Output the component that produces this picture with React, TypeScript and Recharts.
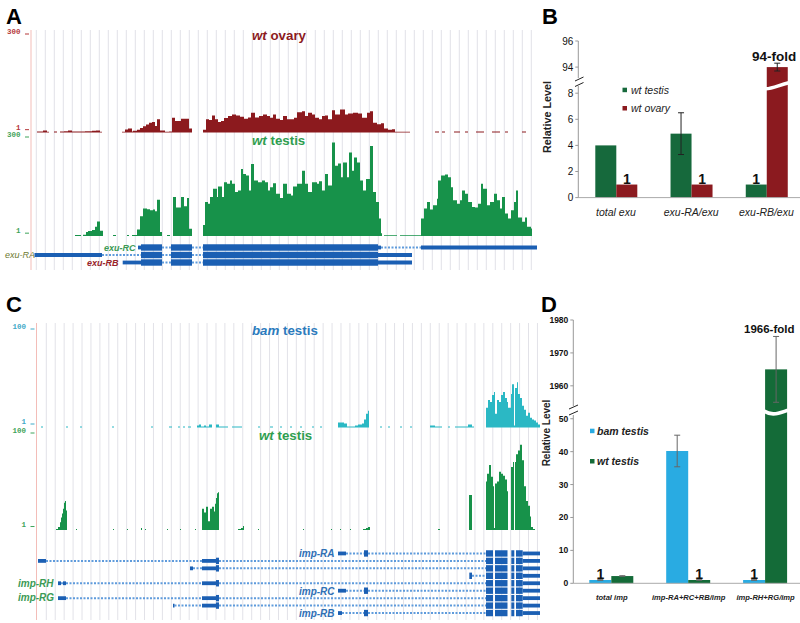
import React from "react";
import {
  AreaChart,
  Area,
  BarChart,
  Bar,
  ComposedChart,
  Line,
  XAxis,
  YAxis,
  ErrorBar,
  LabelList,
  ReferenceLine,
} from "recharts";

const FONT = "'Liberation Sans', Arial, sans-serif";

// coverage tracks: bin start and read height, null = no coverage
const ovaryBins = [37, 43, 47, 49, 54, 57, 60, 64, 68, 72, 78, 85, 92, 96, 100, 102, 122, 125, 128, 132, 133, 137, 140, 143, 146, 149, 152, 155, 157, 160, 165, 169, 172, 175, 178, 181, 185, 189, 192, 203, 206, 209, 212, 215, 218, 221, 224, 228, 232, 236, 240, 244, 248, 251, 255, 259, 263, 267, 270, 273, 276, 280, 283, 287, 291, 294, 297, 302, 305, 308, 312, 315, 319, 322, 325, 328, 332, 335, 340, 345, 348, 353, 358, 362, 367, 370, 373, 377, 381, 384, 388, 392, 395, 410, 435, 439, 442, 445, 454, 460, 465, 468, 476, 484, 492, 500, 505, 508, 522, 526];
const ovaryReads = [3, 6, 2, null, 3, null, 3, 4, 6, 3, 3, 4, 5, 6, 2, null, 2, 9, 12, 3, 5, 8, 14, 19, 24, 30, 32, 20, 40, 6, 2, 3, 45, 35, 35, 42, 42, 12, null, 8, 40, 38, 52, 40, 32, 35, 44, 50, 55, 52, 48, 42, 46, 60, 46, 50, 55, 50, 45, 55, 42, 38, 50, 40, 40, 45, 62, 65, 50, 60, 55, 45, 40, 50, 52, 40, 68, 55, 70, 55, 58, 60, 58, 45, 60, 65, 30, 25, 28, 12, 8, 10, 2, null, 3, null, 3, null, 3, null, 3, null, 3, null, 3, null, 3, null, 3, null];

const testisABins = [75, 81, 83, 86, 88, 92, 95, 97, 100, 103, 113, 116, 127, 129, 132, 137, 140, 143, 147, 150, 153, 155, 157, 160, 162, 167, 170, 173, 176, 181, 184, 187, 189, 192, 203, 205, 208, 210, 213, 217, 218, 222, 224, 227, 230, 232, 235, 238, 241, 243, 246, 249, 251, 254, 258, 262, 265, 268, 270, 273, 276, 280, 283, 287, 291, 293, 297, 302, 305, 308, 312, 317, 319, 322, 325, 328, 332, 335, 338, 341, 343, 347, 349, 352, 354, 357, 360, 363, 366, 370, 373, 376, 379, 381, 382, 384, 397, 400, 421, 424, 427, 430, 433, 437, 438, 441, 445, 448, 451, 453, 457, 460, 462, 465, 468, 472, 475, 478, 481, 483, 487, 490, 494, 497, 500, 502, 505, 508, 511, 514, 516, 518, 522, 525, 527, 531, 532];
const testisAReads = [3, null, 4, 12, 15, 18, 28, 44, 16, null, 3, null, 3, null, 3, 20, 60, 83, 81, 78, 80, 75, 110, 12, null, 3, null, 118, 86, 118, 90, 115, 22, null, 33, 103, 98, 118, 143, 118, 150, 118, 163, 158, 168, 158, 133, 138, 203, 188, 183, 138, 218, 168, 163, 168, 163, 138, 148, 160, 128, 115, 158, 128, 123, 150, 158, 198, 158, 133, 163, 158, 166, 138, 188, 153, 283, 213, 220, 178, 223, 178, 253, 198, 238, 223, 168, 138, 173, 273, 133, 103, 53, 8, null, 2, null, 2, 53, 83, 103, 80, 93, 113, 168, 183, 186, 178, 148, 108, 98, 108, 138, 128, 103, 88, 86, 98, 158, 143, 93, 103, 128, 108, 83, 118, 68, 53, 78, 103, 138, 56, 43, 56, 28, 23, null];

const bamBins = [41, 43, 66, 68, 80, 82, 112, 114, 151, 153, 169, 172, 178, 180, 183, 185, 188, 191, 197, 199, 201, 204, 206, 209, 212, 216, 219, 224, 228, 232, 240, 242, 258, 260, 270, 273, 280, 282, 290, 292, 300, 302, 312, 314, 320, 322, 338, 341, 344, 347, 350, 355, 358, 362, 364, 366, 368, 369, 380, 382, 388, 390, 400, 402, 410, 412, 430, 435, 440, 442, 448, 450, 455, 462, 468, 472, 474, 486, 488, 490, 492, 494, 495, 497, 499, 501, 503, 505, 507, 508, 511, 512, 514, 515, 517, 518, 520, 522, 524, 526, 528, 530, 532, 534, 536, 538, 540];
const bamReads = [1, null, 1, null, 1, null, 1, null, 1, null, 1, null, 1, null, 1, null, 1, null, 2, 3, 1, 2, 1, 3, null, 3, 1, 1, null, 1, 1, null, 1, null, 1, null, 1, null, 1, null, 1, null, 1, null, 1, null, 5, 5, 4, 1, 1, 2, 3, 4, 8, 14, 17, null, 1, null, 1, null, 1, null, 1, null, 2, 1, 1, null, 1, null, 1, 1, 3, 1, null, 20, 28, 26, 33, 36, 14, 28, 26, 33, 36, 30, 26, 20, 34, 44, 2, 40, 46, 34, 30, 22, 18, 12, 15, 10, 8, 7, 5, 3, 2];

const testisCBins = [56, 58, 60, 61, 62, 63, 64, 65, 66, 67, 76, 77, 113, 114, 127, 128, 141, 142, 145, 146, 167, 168, 180, 181, 195, 196, 202, 204, 206, 208, 210, 212, 214, 215, 216, 217, 218, 219, 238, 241, 243, 244, 258, 259, 303, 304, 331, 332, 340, 341, 350, 351, 363, 366, 368, 370, 438, 440, 469, 472, 486, 487, 489, 491, 493, 494, 495, 497, 499, 501, 503, 505, 507, 508, 511, 513, 514, 515, 516, 518, 520, 522, 524, 526, 528, 530, 531, 533, 535];
const testisCReads = [1, 3, 8, 13, 17, 22, 28, 30, 20, null, 1, null, 1, null, 1, null, 2, null, 1, null, 1, null, 1, null, 1, null, 22, 18, 24, 9, 22, 24, 19, 27, 33, 38, 39, null, 1, 2, 4, null, 1, null, 1, null, 1, null, 1, null, 1, null, 1, 2, 3, null, 1, null, 36, null, 50, 58, 67, 55, 45, 2, 48, 50, 60, 58, 56, 52, 40, null, 65, 70, null, 70, 78, 82, 88, 72, 45, 30, 25, 14, 3, 1, null];

// gene models, each feature is [row, from, to]
const exuCds = [1, 2, 3].flatMap((row) => [[row, 141, 162], [row, 171, 192], [row, 203, 378]]);
const exuUtr = [[1, 138, 141], [1, 378, 381], [1, 421, 537], [2, 34.5, 102], [2, 378, 412], [3, 122.7, 141], [3, 378, 412]];
const exuIntrons = [[1, 162, 171], [1, 192, 203], [1, 381, 421], [2, 102, 141], [2, 162, 171], [2, 192, 203], [3, 162, 171], [3, 192, 203]];

const impRows = [1, 2, 3, 4, 5, 6, 7, 8, 9];
const impCds = [
  ...impRows.flatMap((row) => [[row, 486, 493], [row, 495, 507.5], [row, 511.3, 514.3], [row, 516, 522.7]]),
  ...[2, 3, 5, 7, 8].flatMap((row) => [[row, 216, 219]]),
  ...[1, 6, 9].flatMap((row) => [[row, 364, 368]]),
  [4, 469.3, 472],
];
const impUtr = [
  ...impRows.map((row) => [row, 522.7, 540]),
  ...[2, 3, 5, 7, 8].map((row) => [row, 202, 216]),
  [1, 338, 346], [2, 38, 46], [3, 190, 193], [5, 58, 61], [5, 63, 66], [6, 338, 346], [7, 58, 66], [8, 173, 174.5], [9, 338, 342],
];
const impIntrons = [
  [1, 346, 364], [1, 368, 486], [2, 46, 202], [2, 219, 486], [3, 193, 202], [3, 219, 486], [4, 472, 486],
  [5, 61, 63], [5, 66, 202], [5, 219, 486], [6, 346, 364], [6, 368, 486], [7, 66, 202], [7, 219, 486],
  [8, 174.5, 202], [8, 219, 486], [9, 342, 364], [9, 368, 486],
];

// panel B
const exuGroups = ["total exu", "exu-RA/exu", "exu-RB/exu"];
const exuTestis = [4, 4.9, 1];
const exuOvary = [1, 1, 94];
const exuTestisErr = [0, 1.6, 0];
const exuOvaryErr = [0, 0, 0.3];
const exuTicks = [0, 2, 4, 6, 8, 94, 96];

// panel D
const impGroups = ["total imp", "imp-RA+RC+RB/imp", "imp-RH+RG/imp"];
const impBam = [1, 40.2, 1];
const impWt = [2.2, 1, 1965];
const impBamErr = [0.1, 4.8, 0.1];
const impWtErr = [0.1, 0.1, 10];
const impTicks = [0, 10, 20, 30, 40, 50, 1960, 1970, 1980];

// broken axes: everything above the break is slid down
const squeezeB = (v: number) => (v > 8 ? v - 84 : v);
const squeezeD = (v: number) => (v > 50 ? v - 1900 : v);

// a step area drops the bin in front of a gap, so close it by hand
const zip = (bins: number[], reads: (number | null)[]) =>
  bins.flatMap((x, i) => {
    const v = reads[i];
    if (v != null && reads[i + 1] === null) return [{ x, v }, { x: bins[i + 1], v }];
    return [{ x, v }];
  });

const bRows = exuGroups.map((name, i) => ({
  name,
  a: squeezeB(exuTestis[i]),
  b: squeezeB(exuOvary[i]),
  aErr: exuTestisErr[i],
  bErr: exuOvaryErr[i],
}));
const dRows = impGroups.map((name, i) => ({
  name,
  a: squeezeD(impBam[i]),
  b: squeezeD(impWt[i]),
  aErr: impBamErr[i],
  bErr: impWtErr[i],
}));

const TrackTick = (props: any) => {
  const { y, payload, axisX, color, label } = props;
  const lift = payload.value <= 1 ? -2.5 : 0;
  return (
    <g>
      <line x1={axisX - 6} x2={axisX - 2} y1={y + lift} y2={y + lift} stroke={color} strokeWidth={1} />
      <text x={axisX - 10.5} y={y + lift - 2} textAnchor="end" dominantBaseline="middle" fontFamily="'Liberation Mono', monospace" fontWeight="bold" fontSize={7.5} fill={color}>
        {payload.value <= 1 ? "1" : label}
      </text>
    </g>
  );
};

function Track({ rows, top, base, left, right, max, color, tickColor }: any) {
  const height = base - top + 12;
  return (
    <div style={{ position: "absolute", left: 0, top: top - 8 }}>
      <AreaChart width={right} height={height} data={rows} margin={{ top: 8, right: 0, bottom: 4, left: 0 }}>
        <XAxis type="number" dataKey="x" domain={[left, right]} hide allowDataOverflow />
        <YAxis
          type="number"
          domain={[0, max]}
          ticks={[1, max]}
          interval={0}
          width={left}
          axisLine={false}
          tickLine={false}
          tick={<TrackTick axisX={left} color={tickColor} label={String(max)} />}
        />
        <Area dataKey="v" type="stepAfter" fill={color} fillOpacity={1} stroke="none" connectNulls={false} dot={false} activeDot={false} isAnimationActive={false} />
      </AreaChart>
    </div>
  );
}

function Backdrop({ top, bottom, right, axisX, lines }: any) {
  return (
    <div style={{ position: "absolute", left: 0, top }}>
      <ComposedChart width={right} height={bottom - top} data={[{ x: 0, y: 0 }, { x: right, y: 1 }]} margin={{ top: 0, right: 0, bottom: 0, left: 0 }}>
        <XAxis type="number" dataKey="x" domain={[0, right]} hide />
        <YAxis type="number" domain={[0, 1]} hide />
        <Line dataKey="y" stroke="none" dot={false} activeDot={false} legendType="none" isAnimationActive={false} />
        {lines.map((x: number) => (
          <ReferenceLine key={x} x={x} stroke="#e2e2e8" strokeWidth={1} />
        ))}
        <ReferenceLine x={axisX} stroke="#f3bdb8" strokeWidth={1} />
      </ComposedChart>
    </div>
  );
}

function Genes({ top, rowH, rowCount, right, cds, utr, introns }: any) {
  const seg = (list: number[][], prefix: string, stroke: string, width: number, dash?: string) =>
    list.map(([row, from, to], i) => (
      <Line
        key={prefix + i}
        data={[{ x: from, y: row }, { x: to, y: row }]}
        dataKey="y"
        stroke={stroke}
        strokeWidth={width}
        strokeDasharray={dash}
        dot={false}
        activeDot={false}
        legendType="none"
        isAnimationActive={false}
      />
    ));
  return (
    <div style={{ position: "absolute", left: 0, top }}>
      <ComposedChart width={right} height={rowH * (rowCount + 1)} margin={{ top: 0, right: 0, bottom: 0, left: 0 }}>
        <XAxis type="number" dataKey="x" domain={[0, right]} hide />
        <YAxis type="number" domain={[0, rowCount + 1]} reversed hide />
        {seg(introns, "i", "#5f9bdc", 2, "2 1.5")}
        {seg(utr, "u", "#1b5fb3", 3.8)}
        {seg(cds, "c", "#1b5fb3", 6.4)}
      </ComposedChart>
    </div>
  );
}

const BreakBar = (breakAt: number, slanted: boolean) => (props: any) => {
  const { x, y, width, height, fill, value } = props;
  const shown = Array.isArray(value) ? value[1] : value;
  const yb = y + height * (1 - breakAt / shown);
  const cut = slanted
    ? `M${x - 1} ${yb + 3} C${x + width * 0.3} ${yb + 3} ${x + width * 0.6} ${yb - 1} ${x + width + 1} ${yb - 3}`
    : `M${x - 1} ${yb - 1} Q${x + width * 0.25} ${yb + 3} ${x + width * 0.6} ${yb + 1} T${x + width + 1} ${yb - 2}`;
  return (
    <g>
      <rect x={x} y={y} width={width} height={height} fill={fill} />
      {shown > breakAt && <path d={cut} stroke="#fff" strokeWidth={3.6} fill="none" />}
    </g>
  );
};

function FoldBars({ rows, left, top, height, plotLeft, domainMax, ticks, squeeze, colors, barSize, gap, tickSize, tickWeight, catSize, catWeight, breakAt, slanted, errColor }: any) {
  const showOne = (v: any) => (v === 1 ? "1" : "");
  return (
    <div style={{ position: "absolute", left, top }}>
      <BarChart
        width={800 - left + 4}
        height={height + 36}
        data={rows}
        barSize={barSize}
        barGap={0}
        barCategoryGap={gap}
        margin={{ top: 10, right: 0, bottom: 0, left: 0 }}
      >
        <XAxis
          dataKey="name"
          height={26}
          interval={0}
          stroke="#aaa"
          tickLine={false}
          tickMargin={5}
          tick={{ fontSize: catSize, fontStyle: "italic", fontWeight: catWeight, fontFamily: FONT, fill: "#222" }}
        />
        <YAxis
          type="number"
          width={plotLeft}
          domain={[0, domainMax]}
          ticks={ticks.map(squeeze)}
          interval={0}
          stroke="#999"
          tickSize={3}
          tickMargin={2}
          tickFormatter={(v: number) => String(ticks[ticks.map(squeeze).indexOf(v)])}
          tick={{ fontSize: tickSize, fontWeight: tickWeight, fontFamily: FONT, fill: "#111" }}
        />
        <Bar dataKey="a" fill={colors[0]} shape={BreakBar(breakAt, slanted)} isAnimationActive={false}>
          <ErrorBar dataKey="aErr" width={3} stroke={errColor} strokeWidth={1} />
          <LabelList dataKey="a" position="top" offset={1} formatter={showOne} style={{ fontSize: 14, fontWeight: "bold", fontFamily: FONT, fill: "#111" }} />
        </Bar>
        <Bar dataKey="b" fill={colors[1]} shape={BreakBar(breakAt, slanted)} isAnimationActive={false}>
          <ErrorBar dataKey="bErr" width={3} stroke={errColor} strokeWidth={1} />
          <LabelList dataKey="b" position="top" offset={1} formatter={showOne} style={{ fontSize: 14, fontWeight: "bold", fontFamily: FONT, fill: "#111" }} />
        </Bar>
      </BarChart>
    </div>
  );
}

const panelLetter = { fontFamily: FONT, fontWeight: "bold", fontSize: 22, fill: "#000" } as const;
const geneLabel = { fontFamily: FONT, fontStyle: "italic", fontWeight: "bold", fontSize: 10 } as const;
const exuLabel = { fontFamily: FONT, fontStyle: "italic", fontWeight: "bold", fontSize: 9 } as const;
const legendText = { fontFamily: FONT, fontStyle: "italic", fontSize: 10.5, fill: "#222" } as const;

function TrackTitle({ x, y, em, rest, fill }: any) {
  return (
    <text x={x} y={y} fontFamily={FONT} fontSize={13.3} fontWeight="bold" fill={fill}>
      <tspan fontStyle="italic">{em}</tspan>
      <tspan> {rest}</tspan>
    </text>
  );
}

const gridA = Array.from({ length: 56 }, (_, i) => 36.3 + i * 9);
const gridC = Array.from({ length: 56 }, (_, i) => 46.3 + i * 8.93);

export default function App() {
  return (
    <div style={{ position: "absolute", left: 0, top: 0, width: 800, height: 623, overflow: "hidden", background: "#fff" }}>
      <Backdrop top={30} bottom={270} right={537} axisX={31} lines={gridA} />
      <Backdrop top={323} bottom={620} right={540} axisX={36.5} lines={gridC} />

      <Track rows={zip(ovaryBins, ovaryReads)} top={34} base={132.5} left={31} right={537} max={300} color="#8c1a1e" tickColor="#b5383a" />
      <Track rows={zip(testisABins, testisAReads)} top={137} base={236} left={31} right={537} max={300} color="#17924a" tickColor="#3fa35a" />
      <Track rows={zip(bamBins, bamReads)} top={329} base={427.5} left={36.5} right={540} max={100} color="#2bb8c4" tickColor="#3fa9c8" />
      <Track rows={zip(testisCBins, testisCReads)} top={432.5} base={529.5} left={36.5} right={540} max={100} color="#17924a" tickColor="#3fa35a" />

      <Genes top={240.2} rowH={7.5} rowCount={3} right={540} cds={exuCds} utr={exuUtr} introns={exuIntrons} />
      <Genes top={545.85} rowH={7.45} rowCount={9} right={540} cds={impCds} utr={impUtr} introns={impIntrons} />

      <FoldBars
        rows={bRows}
        left={530}
        top={30.7}
        height={156.6}
        plotLeft={48.3}
        domainMax={12}
        ticks={exuTicks}
        squeeze={squeezeB}
        colors={["#16693c", "#8b1a1f"]}
        barSize={21}
        gap={16}
        tickSize={10}
        tickWeight="normal"
        catSize={10.5}
        catWeight="normal"
        breakAt={8.57}
        slanted
        errColor="#222"
      />
      <FoldBars
        rows={dRows}
        left={530}
        top={310}
        height={263.3}
        plotLeft={43.3}
        domainMax={80}
        ticks={impTicks}
        squeeze={squeezeD}
        colors={["#29abe2", "#146b38"]}
        barSize={22}
        gap={16}
        tickSize={8.5}
        tickWeight="bold"
        catSize={7.6}
        catWeight="bold"
        breakAt={52}
        slanted={false}
        errColor="#666"
      />

      <svg width={800} height={623} style={{ position: "absolute", left: 0, top: 0, pointerEvents: "none" }}>
        <text x={6} y={24} {...panelLetter}>A</text>
        <text x={542} y={24} {...panelLetter}>B</text>
        <text x={6} y={312} {...panelLetter}>C</text>
        <text x={541} y={312} {...panelLetter}>D</text>

        <TrackTitle x={252} y={40} em="wt" rest="ovary" fill="#8c1a1e" />
        <TrackTitle x={252} y={145} em="wt" rest="testis" fill="#2f9e4f" />
        <TrackTitle x={252} y={335} em="bam" rest="testis" fill="#2b7bbd" />
        <TrackTitle x={259} y={440} em="wt" rest="testis" fill="#2f9e4f" />

        <text x={5} y={258} {...exuLabel} fontWeight="normal" fill="#6d7a2f">exu-RA</text>
        <text x={104} y={251} {...exuLabel} fill="#3c9a55">exu-RC</text>
        <text x={87} y={266} {...exuLabel} fill="#98242a">exu-RB</text>
        <text x={299} y={556.5} {...geneLabel} fill="#2f6fb5">imp-RA</text>
        <text x={299} y={594.5} {...geneLabel} fill="#2f6fb5">imp-RC</text>
        <text x={299} y={616.5} {...geneLabel} fill="#2f6fb5">imp-RB</text>
        <text x={18} y={586.5} {...geneLabel} fill="#3c9a55">imp-RH</text>
        <text x={18} y={601} {...geneLabel} fill="#3c9a55">imp-RG</text>

        <rect x={622.5} y={87.7} width={4.5} height={4.5} fill="#16693c" />
        <text x={631} y={94} {...legendText}>wt testis</text>
        <rect x={622.5} y={106} width={4.5} height={4.5} fill="#8b1a1f" />
        <text x={631} y={112} {...legendText}>wt ovary</text>
        <rect x={590} y={428.7} width={4.5} height={4.5} fill="#29abe2" />
        <text x={597} y={434.5} {...legendText} fontWeight="bold">bam testis</text>
        <rect x={590} y={459} width={4.5} height={4.5} fill="#146b38" />
        <text x={597} y={465} {...legendText} fontWeight="bold">wt testis</text>

        <text x={752} y={61} fontFamily={FONT} fontWeight="bold" fontSize={13.5} fill="#111">94-fold</text>
        <text x={744} y={332.5} fontFamily={FONT} fontWeight="bold" fontSize={11.5} fill="#111">1966-fold</text>

        <text transform="translate(551,117) rotate(-90)" textAnchor="middle" fontFamily={FONT} fontWeight="bold" fontSize={10.8} fill="#222">Relative Level</text>
        <text transform="translate(550,433) rotate(-90)" textAnchor="middle" fontFamily={FONT} fontWeight="bold" fontSize={10} fill="#222">Relative Level</text>

        <rect x={576} y={78} width={4} height={8} fill="#fff" />
        <line x1={575} y1={81} x2={583.5} y2={77} stroke="#222" strokeWidth={1} />
        <line x1={575} y1={86.5} x2={583.5} y2={82.5} stroke="#222" strokeWidth={1} />
        <rect x={571.5} y={406} width={4} height={9} fill="#fff" />
        <line x1={569} y1={409} x2={578} y2={405} stroke="#222" strokeWidth={1} />
        <line x1={569} y1={415} x2={578} y2={411} stroke="#222" strokeWidth={1} />
      </svg>
    </div>
  );
}
